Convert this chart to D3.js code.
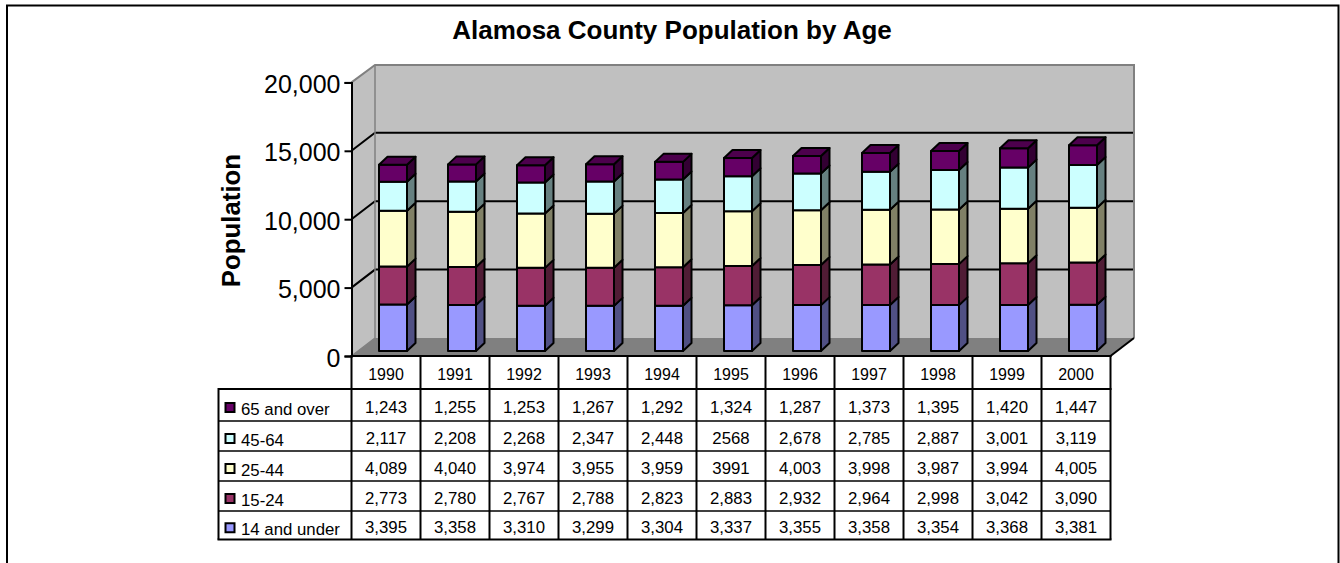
<!DOCTYPE html>
<html>
<head>
<meta charset="utf-8">
<script src="https://cdn.jsdelivr.net/npm/d3@7"></script>
<style>
html,body{margin:0;padding:0;background:#fff;overflow:hidden}
text{font-family:"Liberation Sans",Arial,sans-serif;fill:#000}
</style>
</head>
<body>
<svg id="c" width="1340" height="563"></svg>
<script>
const years = [1990,1991,1992,1993,1994,1995,1996,1997,1998,1999,2000];
const under14 = [3395,3358,3310,3299,3304,3337,3355,3358,3354,3368,3381];
const age15to24 = [2773,2780,2767,2788,2823,2883,2932,2964,2998,3042,3090];
const age25to44 = [4089,4040,3974,3955,3959,3991,4003,3998,3987,3994,4005];
const age45to64 = [2117,2208,2268,2347,2448,2568,2678,2785,2887,3001,3119];
const age65over = [1243,1255,1253,1267,1292,1324,1287,1373,1395,1420,1447];
const seriesNames = ["14 and under","15-24","25-44","45-64","65 and over"];
const seriesValues = [under14,age15to24,age25to44,age45to64,age65over];
const frontColors = ["#9999FF","#993366","#FFFFCC","#CCFFFF","#660066"];
const sideColors = ["#505084","#501C35","#808066","#668080","#330033"];
const capColor = "#4D004D";
const noCommaCells = ["45-64|1995","25-44|1995"];
const yTicks = [0,5000,10000,15000,20000];

const svg = d3.select("#c");
const x = d3.scaleBand().domain(years).range([351.5,1110.5]);
const y = d3.scaleLinear().domain([0,20000]).range([356,82.4]);
const depthX = 23.5, depthY = 18;
const barDX = 8.5, barDY = 8, barW = 28, barBase = 5, barShift = 7;
const backRight = x.range()[1] + depthX;
const fmt = d3.format(",");

// frame
svg.append("path").attr("d","M7,563V5.5H1338.5V563").attr("fill","none").attr("stroke","#000").attr("stroke-width",2);

// title
svg.append("text").attr("x",672).attr("y",39).attr("text-anchor","middle")
  .attr("font-size",26).attr("font-weight","bold").text("Alamosa County Population by Age");
svg.append("text").attr("transform","translate(240,220.5) rotate(-90)").attr("text-anchor","middle")
  .attr("font-size",25.8).attr("font-weight","bold").text("Population");

// walls and floor
const x0 = x.range()[0], x1 = x.range()[1];
const yb = y(0), yt = y(20000);
const poly = pts => "M" + pts.map(p=>p.join(",")).join("L") + "Z";
svg.append("path").attr("d",poly([[x0+depthX,yt-depthY+.5],[backRight,yt-depthY+.5],[backRight,yb-depthY],[x0+depthX,yb-depthY]]))
  .attr("fill","#C0C0C0");
svg.append("path").attr("d",poly([[x0,yt],[x0+depthX,yt-depthY+.5],[x0+depthX,yb-depthY],[x0,yb]]))
  .attr("fill","#C0C0C0");
svg.append("path").attr("d",poly([[x0,yb],[x0+depthX,yb-depthY],[backRight,yb-depthY],[x1,yb]]))
  .attr("fill","#808080");

// gridlines
yTicks.filter(t=>t>0 && t<20000).forEach(t=>{
  svg.append("path").attr("d",`M${x0},${y(t)}L${x0+depthX},${y(t)-depthY}H${backRight}`)
    .attr("fill","none").attr("stroke","#000").attr("stroke-width",2);
});
// wall outlines
svg.append("path").attr("d",`M${x0},${yt}L${x0+depthX},${yt-depthY+.5}H${backRight}V${yb-depthY}`)
  .attr("fill","none").attr("stroke","#808080").attr("stroke-width",2);
svg.append("path").attr("d",`M${x0+depthX},${yt-depthY+.5}V${yb-depthY}L${x0},${yb}`)
  .attr("fill","none").attr("stroke","#808080").attr("stroke-width",1.5);
svg.append("path").attr("d",`M${x1},${yb}L${backRight},${yb-depthY}`)
  .attr("fill","none").attr("stroke","#000").attr("stroke-width",2);

// stacked bars
const rows = years.map((yr,i)=>{
  const r = {year:yr};
  seriesNames.forEach((n,j)=>r[n]=seriesValues[j][i]);
  return r;
});
const stacked = d3.stack().keys(seriesNames)(rows);
rows.forEach((r,i)=>{
  const g = svg.append("g").attr("stroke","#000").attr("stroke-width",2).attr("stroke-linejoin","round");
  const L = x(r.year)+barShift+(x.bandwidth()-barW)/2, R = L+barW;
  stacked.forEach((s,j)=>{
    const b = y(s[i][0])-barBase, t = y(s[i][1])-barBase;
    g.append("path").attr("d",poly([[R,b],[R+barDX,b-barDY],[R+barDX,t-barDY],[R,t]])).attr("fill",sideColors[j]);
    g.append("path").attr("d",poly([[L,b],[R,b],[R,t],[L,t]])).attr("fill",frontColors[j]);
    if(j===stacked.length-1){
      g.append("path").attr("d",poly([[L,t],[L+barDX,t-barDY],[R+barDX,t-barDY],[R,t]])).attr("fill",capColor);
    }
  });
});

// y axis
const axis = svg.append("g").attr("transform",`translate(${x0},0)`)
  .call(d3.axisLeft(y).tickValues(yTicks).tickFormat(fmt).tickSize(7).tickPadding(4));
axis.selectAll("path").attr("stroke","#000").attr("stroke-width",2);
axis.selectAll("line").attr("stroke","#000").attr("stroke-width",2);
axis.selectAll("text").attr("font-size",25).attr("font-family",'"Liberation Sans",Arial,sans-serif').attr("fill","#000").attr("dy","0.4em");

// data table
const tableTop = yb, headBottom = 389, tableBottom = 539.5, tableLeft = 218.5;
const rowEdges = [389,421,451,481,511,539.5];
const tableG = svg.append("g");
const displayOrder = seriesNames.map((n,j)=>j).reverse();
rowEdges.slice(1,-1).forEach(e=>{
  tableG.append("line").attr("x1",tableLeft).attr("x2",x1).attr("y1",e).attr("y2",e).attr("stroke","#000").attr("stroke-width",1.5);
});
tableG.append("line").attr("x1",tableLeft).attr("x2",x1+1).attr("y1",headBottom).attr("y2",headBottom).attr("stroke","#000").attr("stroke-width",2);
tableG.append("line").attr("x1",tableLeft-1).attr("x2",x1+1).attr("y1",tableBottom).attr("y2",tableBottom).attr("stroke","#000").attr("stroke-width",2);
tableG.append("line").attr("x1",tableLeft).attr("x2",tableLeft).attr("y1",headBottom-1).attr("y2",tableBottom).attr("stroke","#000").attr("stroke-width",2);
[...years.map(d=>x(d)),x1].forEach(v=>{
  tableG.append("line").attr("x1",v).attr("x2",v).attr("y1",tableTop).attr("y2",tableBottom).attr("stroke","#000").attr("stroke-width",2);
});
tableG.append("line").attr("x1",x0-1).attr("x2",x1+1).attr("y1",yb).attr("y2",yb).attr("stroke","#000").attr("stroke-width",2);
years.forEach(yr=>{
  tableG.append("text").attr("x",x(yr)+x.bandwidth()/2).attr("y",380).attr("text-anchor","middle").attr("font-size",16).text(yr);
});
displayOrder.forEach((j,ri)=>{
  const top = rowEdges[ri], bot = rowEdges[ri+1], mid = (top+bot)/2;
  tableG.append("rect").attr("x",225.5).attr("y",mid-2).attr("width",9).attr("height",9)
    .attr("fill",frontColors[j]).attr("stroke","#000").attr("stroke-width",2);
  tableG.append("text").attr("x",241).attr("y",mid+9.5).attr("font-size",16.8).text(seriesNames[j]);
  years.forEach((yr,i)=>{
    const v = seriesValues[j][i];
    const label = noCommaCells.includes(seriesNames[j]+"|"+yr) ? String(v) : fmt(v);
    tableG.append("text").attr("x",x(yr)+x.bandwidth()/2).attr("y",mid+8).attr("text-anchor","middle").attr("font-size",16.8).text(label);
  });
});
</script>
</body>
</html>
